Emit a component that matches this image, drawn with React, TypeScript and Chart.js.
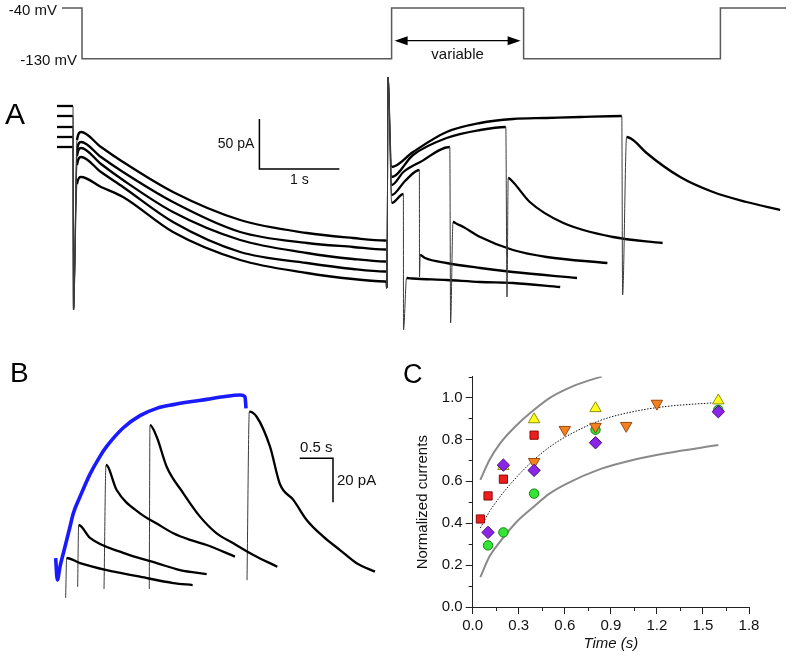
import React, { useEffect, useRef } from 'react';
import { Chart, registerables } from 'chart.js';

Chart.register(...registerables);

const FONT = '"Liberation Sans", Arial, Helvetica, sans-serif';

// ---------------- Voltage protocol ----------------
const protocolTimes = [0, 0.25, 4.12, 5.77, 8.23, 9.05]; // s
const protocolVoltages = [-40, -130, -40, -130, -40, -40]; // mV
const holdingLabels = ['-40 mV', '-130 mV'];
const variableText = 'variable';
const arrowVoltage = -98; // mV level of the "variable" arrow

// ---------------- Panel A (t in s, current in pA) ----------------
const sweepA1: [number, number][] = [
  [0, 194], [0.2, 194], [0.206, -10], [0.25, 160], [0.3, 168], [0.55, 153], [0.825, 138], [1.45, 108], [2.29, 80], [3.125, 67], [3.7, 62], [4.1, 59.5], [4.119, 59],
  [4.125, 12], [4.138, 223], [4.184, 133], [4.45, 148], [4.87, 168], [5.29, 177], [5.7, 181], [6.12, 182], [6.54, 183],
  [7.06, 184], [7.07, 5], [7.12, 163], [7.2, 160], [7.37, 147], [7.79, 123], [8.2, 108], [8.62, 98], [9.04, 90],
];
const sweepA2: [number, number][] = [
  [0, 184], [0.2, 184], [0.206, -10], [0.25, 150], [0.3, 158], [0.55, 143], [0.825, 128], [1.45, 98], [2.29, 68], [3.125, 57], [3.7, 53], [4.1, 50.5], [4.119, 50],
  [4.125, 12], [4.138, 223], [4.184, 123], [4.45, 145], [4.87, 162], [5.29, 170], [5.61, 173],
  [5.625, 3], [5.64, 122], [5.7, 118], [5.91, 98], [6.33, 77], [6.95, 63], [7.57, 57],
];
const sweepA3: [number, number][] = [
  [0, 173], [0.2, 173], [0.206, -10], [0.25, 144], [0.3, 152], [0.55, 136], [0.825, 120], [1.45, 88], [2.29, 60], [3.125, 47], [3.7, 41], [4.1, 38.5], [4.119, 38],
  [4.125, 12], [4.138, 223], [4.184, 115], [4.33, 128], [4.54, 138], [4.91, 153],
  [4.92, -23], [4.95, 78], [5.0, 76], [5.08, 73], [5.29, 63], [5.7, 50], [6.12, 43], [6.88, 37],
];
const sweepA4: [number, number][] = [
  [0, 163], [0.2, 163], [0.206, -10], [0.25, 135], [0.3, 143], [0.55, 128], [0.825, 113], [1.45, 78], [2.29, 48], [3.125, 37], [3.7, 31], [4.1, 28.5], [4.119, 28],
  [4.125, 12], [4.138, 223], [4.184, 105], [4.35, 119], [4.53, 130],
  [4.531, 23], [4.54, 45], [4.6, 42], [4.87, 37], [5.29, 32], [5.7, 28], [6.5, 22],
];
const sweepA5: [number, number][] = [
  [0, 153], [0.2, 153], [0.206, -10], [0.25, 116], [0.3, 123], [0.55, 113], [0.825, 103], [1.45, 68], [2.29, 40], [3.125, 27], [3.7, 21], [4.1, 18.5], [4.119, 18],
  [4.125, 12], [4.138, 223], [4.184, 97], [4.33, 106],
  [4.331, -30], [4.37, 22], [4.45, 21.5], [4.87, 20], [5.29, 18], [5.7, 17], [6.29, 13],
];
const scaleBarATimes = [2.53, 2.53, 3.53];
const scaleBarACurrents = [181, 131, 131];
const scaleBarALabels = ['50 pA', '1 s'];

// ---------------- Panel B (t in s, current in pA) ----------------
const blueTrace: [number, number][] = [
  [0.01, 19], [0.035, 9.1], [0.075, 15.2], [0.15, 24.2], [0.225, 33.3], [0.275, 39.4], [0.375, 46.9], [0.525, 57.2],
  [0.675, 65.3], [0.775, 69.8], [1.025, 78.3], [1.275, 83.8], [1.525, 87.1], [1.775, 88.8], [2.025, 90.1],
  [2.275, 91.2], [2.525, 92.4], [2.775, 93.2], [2.85, 92.4], [2.865, 87.1],
];
const tailB1: [number, number][] = [[0.16, 1], [0.175, 19.1], [0.375, 16.8], [0.775, 13.6], [1.275, 10.6], [1.775, 7.7], [2.065, 6.8]];
const tailB2: [number, number][] = [[0.34, 6], [0.355, 34.1], [0.525, 28.2], [1.025, 21.4], [1.525, 16.8], [1.875, 13.6], [2.275, 11.8]];
const tailB3: [number, number][] = [[0.735, 5], [0.765, 61.4], [0.925, 50], [1.275, 39.4], [1.525, 34.8], [1.775, 30.3], [2.025, 27.3], [2.275, 25], [2.7, 19.7]];
const tailB4: [number, number][] = [[1.414, 5], [1.425, 79.5], [1.525, 74.2], [1.675, 60.6], [1.925, 48.5], [2.175, 37.9], [2.425, 30.3], [2.675, 25.8], [2.975, 20.5], [3.335, 15.1]];
const tailB5: [number, number][] = [[2.88, 9], [2.915, 85.6], [3.025, 83.3], [3.225, 69.7], [3.375, 52.6], [3.575, 45.5], [3.775, 36.4], [4.025, 28.8], [4.275, 22.7], [4.525, 16.7], [4.8, 12.9]];
const scaleBarBTimes = [3.67, 4.17, 4.17];
const scaleBarBCurrents = [64.4, 64.4, 44.4];
const scaleBarBLabels = ['0.5 s', '20 pA'];

// ---------------- Panel C ----------------
const redTimes = [0.05, 0.1, 0.2, 0.4];
const redValues = [0.42, 0.53, 0.61, 0.82];
const greenTimes = [0.1, 0.2, 0.4, 0.8, 1.6];
const greenValues = [0.294, 0.356, 0.541, 0.846, 0.941];
const yellowTimes = [0.2, 0.4, 0.8, 1.6];
const yellowValues = [0.672, 0.895, 0.948, 0.985];
const orangeTimes = [0.4, 0.6, 0.8, 1.0, 1.2];
const orangeValues = [0.693, 0.846, 0.861, 0.865, 0.971];
const purpleTimes = [0.1, 0.2, 0.4, 0.8, 1.6];
const purpleValues = [0.356, 0.677, 0.652, 0.784, 0.932];

const upperTimes = [0.05, 0.11, 0.18, 0.29, 0.4, 0.5, 0.61, 0.72, 0.84];
const upperValues = [0.607, 0.703, 0.782, 0.87, 0.941, 0.997, 1.04, 1.072, 1.1];
const lowerTimes = [0.05, 0.11, 0.18, 0.29, 0.4, 0.5, 0.61, 0.83, 1.05, 1.26, 1.6];
const lowerValues = [0.143, 0.242, 0.313, 0.409, 0.48, 0.541, 0.588, 0.658, 0.703, 0.734, 0.773];
const fitTimes = [0.05, 0.11, 0.18, 0.29, 0.4, 0.5, 0.61, 0.83, 1.05, 1.26, 1.6];
const fitValues = [0.377, 0.456, 0.528, 0.623, 0.703, 0.763, 0.814, 0.89, 0.933, 0.957, 0.976];

const minorTicksX = [0.15, 0.45, 0.75, 1.05, 1.35, 1.65];
const minorTicksY = [0.1, 0.3, 0.5, 0.7, 0.9, 1.1];
const yTitle = 'Normalized currents';
const xTitle = 'Time (s)';

// ---------------- helpers ----------------
const zip = (xs: number[], ys: number[]) => xs.map((x, i) => ({ x, y: ys[i] }));
const pairs = (p: [number, number][]) => p.map(([x, y]) => ({ x, y }));

const isSpike = (ctx: any) => {
  const dx = Math.abs(ctx.p1.x - ctx.p0.x);
  const dy = Math.abs(ctx.p1.y - ctx.p0.y);
  return dy > 12 && dy > dx * 8;
};

function trace(points: [number, number][], color: string, width: number, thinSpikes = true) {
  return {
    data: pairs(points),
    showLine: true,
    pointRadius: 0,
    borderColor: color,
    borderWidth: width,
    cubicInterpolationMode: 'monotone',
    borderJoinStyle: 'round',
    fill: false,
    segment: thinSpikes
      ? {
          borderWidth: (ctx: any) => (isSpike(ctx) ? 1 : undefined),
          borderColor: (ctx: any) => (isSpike(ctx) ? '#3a3a3a' : undefined),
        }
      : undefined,
  };
}

function bar(xs: number[], ys: number[]) {
  return { data: zip(xs, ys), showLine: true, pointRadius: 0, borderColor: '#000', borderWidth: 1.5, tension: 0, fill: false };
}

function hiddenScaleConfig(xMin: number, xMax: number, yMin: number, yMax: number, datasets: any[], plugin: any) {
  return {
    type: 'scatter',
    data: { datasets },
    options: {
      responsive: false,
      animation: false,
      events: [],
      layout: { padding: 0 },
      plugins: { legend: { display: false }, tooltip: { enabled: false } },
      scales: {
        x: { type: 'linear', display: false, min: xMin, max: xMax },
        y: { type: 'linear', display: false, min: yMin, max: yMax },
      },
    },
    plugins: [plugin],
  };
}

// ---------------- chart configs ----------------
const protocolPlugin = {
  id: 'protocolText',
  afterDatasetsDraw(chart: any) {
    const { ctx, scales } = chart;
    const { x, y } = scales;
    ctx.save();
    ctx.fillStyle = '#111';
    ctx.font = `15px ${FONT}`;
    ctx.textAlign = 'right';
    ctx.textBaseline = 'middle';
    ctx.fillText(holdingLabels[0], x.getPixelForValue(protocolTimes[0]) - 5, y.getPixelForValue(protocolVoltages[0]) + 2.5);
    ctx.fillText(holdingLabels[1], x.getPixelForValue(protocolTimes[1]) - 5, y.getPixelForValue(protocolVoltages[1]) + 2);
    // arrow
    const x0 = x.getPixelForValue(protocolTimes[2]) + 3;
    const x1 = x.getPixelForValue(protocolTimes[3]) - 3;
    const ay = y.getPixelForValue(arrowVoltage);
    ctx.strokeStyle = '#000';
    ctx.lineWidth = 1.2;
    ctx.beginPath();
    ctx.moveTo(x0 + 8, ay);
    ctx.lineTo(x1 - 8, ay);
    ctx.stroke();
    ctx.fillStyle = '#000';
    ctx.beginPath();
    ctx.moveTo(x0, ay);
    ctx.lineTo(x0 + 13, ay - 4.5);
    ctx.lineTo(x0 + 13, ay + 4.5);
    ctx.closePath();
    ctx.fill();
    ctx.beginPath();
    ctx.moveTo(x1, ay);
    ctx.lineTo(x1 - 13, ay - 4.5);
    ctx.lineTo(x1 - 13, ay + 4.5);
    ctx.closePath();
    ctx.fill();
    ctx.fillStyle = '#111';
    ctx.textAlign = 'center';
    ctx.fillText(variableText, (x0 + x1) / 2, ay + 14);
    ctx.restore();
  },
};

const makeProtocol = () =>
  hiddenScaleConfig(
    -0.775,
    9.1125,
    -176.7,
    -25.8,
    [
      {
        data: zip(protocolTimes, protocolVoltages),
        showLine: true,
        stepped: 'before',
        pointRadius: 0,
        borderColor: '#5a5a5a',
        borderWidth: 1.5,
        fill: false,
      },
    ],
    protocolPlugin
  );

const aPlugin = {
  id: 'aText',
  afterDatasetsDraw(chart: any) {
    const { ctx, scales } = chart;
    const { x, y } = scales;
    ctx.save();
    ctx.fillStyle = '#111';
    ctx.font = `14px ${FONT}`;
    ctx.textAlign = 'right';
    ctx.textBaseline = 'middle';
    const vx = x.getPixelForValue(scaleBarATimes[0]);
    const vMid = (y.getPixelForValue(scaleBarACurrents[0]) + y.getPixelForValue(scaleBarACurrents[1])) / 2;
    ctx.fillText(scaleBarALabels[0], vx - 5, vMid);
    ctx.textAlign = 'center';
    ctx.textBaseline = 'top';
    const hMid = (x.getPixelForValue(scaleBarATimes[1]) + x.getPixelForValue(scaleBarATimes[2])) / 2;
    ctx.fillText(scaleBarALabels[1], hMid, y.getPixelForValue(scaleBarACurrents[2]) + 4);
    ctx.restore();
  },
};

const makeA = () =>
  hiddenScaleConfig(
    -0.7125,
    9.175,
    -45,
    230,
    [
      trace(sweepA1, '#000', 2.3),
      trace(sweepA2, '#000', 2.3),
      trace(sweepA3, '#000', 2.3),
      trace(sweepA4, '#000', 2.3),
      trace(sweepA5, '#000', 2.3),
      bar(scaleBarATimes, scaleBarACurrents),
    ],
    aPlugin
  );

const bPlugin = {
  id: 'bText',
  afterDatasetsDraw(chart: any) {
    const { ctx, scales } = chart;
    const { x, y } = scales;
    ctx.save();
    ctx.fillStyle = '#111';
    ctx.font = `15px ${FONT}`;
    ctx.textAlign = 'center';
    ctx.textBaseline = 'alphabetic';
    const hMid = (x.getPixelForValue(scaleBarBTimes[0]) + x.getPixelForValue(scaleBarBTimes[1])) / 2;
    ctx.fillText(scaleBarBLabels[0], hMid, y.getPixelForValue(scaleBarBCurrents[0]) - 6);
    ctx.textAlign = 'left';
    ctx.textBaseline = 'middle';
    const vMid = (y.getPixelForValue(scaleBarBCurrents[1]) + y.getPixelForValue(scaleBarBCurrents[2])) / 2;
    ctx.fillText(scaleBarBLabels[1], x.getPixelForValue(scaleBarBTimes[2]) + 4, vMid + 1);
    ctx.restore();
  },
};

const makeB = () =>
  hiddenScaleConfig(
    -0.825,
    5.175,
    -4.545,
    100,
    [
      trace(blueTrace, '#1a1aff', 3.6, false),
      trace(tailB1, '#000', 2.3),
      trace(tailB2, '#000', 2.3),
      trace(tailB3, '#000', 2.3),
      trace(tailB4, '#000', 2.3),
      trace(tailB5, '#000', 2.3),
      bar(scaleBarBTimes, scaleBarBCurrents),
    ],
    bPlugin
  );

const cPlugin = {
  id: 'cExtras',
  afterDraw(chart: any) {
    const { ctx, scales, chartArea } = chart;
    const { x, y } = scales;
    ctx.save();
    ctx.strokeStyle = '#222';
    ctx.lineWidth = 1;
    ctx.beginPath();
    for (const v of minorTicksY) {
      const py = Math.round(y.getPixelForValue(v)) + 0.5;
      ctx.moveTo(chartArea.left - 4, py);
      ctx.lineTo(chartArea.left, py);
    }
    for (const v of minorTicksX) {
      const px = Math.round(x.getPixelForValue(v)) + 0.5;
      ctx.moveTo(px, chartArea.bottom);
      ctx.lineTo(px, chartArea.bottom + 4);
    }
    ctx.stroke();
    // y title
    ctx.fillStyle = '#111';
    ctx.font = `15px ${FONT}`;
    ctx.textAlign = 'center';
    ctx.textBaseline = 'middle';
    ctx.translate(23, y.getPixelForValue(0.5));
    ctx.rotate(-Math.PI / 2);
    ctx.fillText(yTitle, 0, 0);
    ctx.restore();
  },
};

const marker = (xs: number[], ys: number[], style: string, fill: string, edge: string, r: number, order: number, rotation = 0) => ({
  data: zip(xs, ys),
  showLine: false,
  pointStyle: style,
  pointRadius: r,
  pointRotation: rotation,
  backgroundColor: fill,
  borderColor: edge,
  borderWidth: 1,
  order,
});

const curve = (xs: number[], ys: number[], color: string, width: number, dash: number[], order: number) => ({
  data: zip(xs, ys),
  showLine: true,
  pointRadius: 0,
  borderColor: color,
  borderWidth: width,
  borderDash: dash,
  cubicInterpolationMode: 'monotone',
  fill: false,
  order,
});

const tickFont = { family: FONT, size: 15 };

const makeC = () => ({
  type: 'scatter',
  data: {
    datasets: [
      curve(upperTimes, upperValues, '#8a8a8a', 2, [], 8),
      curve(lowerTimes, lowerValues, '#8a8a8a', 2, [], 7),
      curve(fitTimes, fitValues, '#111', 1, [1.5, 1.5], 6),
      marker(redTimes, redValues, 'rect', '#ee1c1c', '#8a0c0c', 5.8, 5),
      marker(greenTimes, greenValues, 'circle', '#33e633', '#178017', 4.7, 4),
      marker(yellowTimes, yellowValues, 'triangle', '#ffff1a', '#8f8f10', 6.6, 3),
      marker(orangeTimes, orangeValues, 'triangle', '#f5801e', '#9a4a12', 6.6, 2, 180),
      marker(purpleTimes, purpleValues, 'rectRot', '#8a24e6', '#4a1180', 6.2, 1),
    ],
  },
  options: {
    responsive: false,
    animation: false,
    events: [],
    layout: { padding: { left: 10.5, top: 36.5, right: 42, bottom: 3 } },
    plugins: { legend: { display: false }, tooltip: { enabled: false } },
    scales: {
      x: {
        type: 'linear',
        position: 'bottom',
        min: 0,
        max: 1.8,
        afterFit: (s: any) => {
          s.height = 50;
        },
        ticks: {
          stepSize: 0.3,
          includeBounds: false,
          autoSkip: false,
          maxRotation: 0,
          padding: 3,
          color: '#111',
          font: tickFont,
          callback: (v: any) => Number(v).toFixed(1),
        },
        grid: { drawOnChartArea: false, drawTicks: true, tickLength: 7, color: '#222', tickColor: '#222' },
        border: { display: true, color: '#222', width: 1 },
        title: { display: true, text: xTitle, color: '#111', font: { family: FONT, size: 15, style: 'italic' }, padding: { top: 4, bottom: 4 } },
      },
      y: {
        type: 'linear',
        position: 'left',
        min: 0,
        max: 1.1,
        afterFit: (s: any) => {
          s.width = 62.2;
        },
        ticks: {
          stepSize: 0.2,
          includeBounds: false,
          autoSkip: false,
          padding: 3,
          color: '#111',
          font: tickFont,
          callback: (v: any) => Number(v).toFixed(1),
        },
        grid: { drawOnChartArea: false, drawTicks: true, tickLength: 7, color: '#222', tickColor: '#222' },
        border: { display: true, color: '#222', width: 1 },
      },
    },
  },
  plugins: [cPlugin],
});

// ---------------- components ----------------
function ChartCanvas({ left, top, width, height, make }: { left: number; top: number; width: number; height: number; make: () => any }) {
  const ref = useRef<HTMLCanvasElement>(null);
  useEffect(() => {
    const chart = new Chart(ref.current as HTMLCanvasElement, make());
    return () => chart.destroy();
  }, []);
  return <canvas ref={ref} width={width} height={height} style={{ position: 'absolute', left, top, width, height }} />;
}

const letterStyle = (left: number, top: number, size: number): React.CSSProperties => ({
  position: 'absolute',
  left,
  top,
  fontSize: size,
  lineHeight: 1,
  fontFamily: FONT,
  color: '#000',
});

export default function App() {
  return (
    <div style={{ position: 'absolute', left: 0, top: 0, width: 791, height: 660, background: '#fff', overflow: 'hidden' }}>
      <ChartCanvas left={0} top={0} width={791} height={85} make={makeProtocol} />
      <ChartCanvas left={0} top={70} width={791} height={275} make={makeA} />
      <ChartCanvas left={0} top={380} width={400} height={230} make={makeB} />
      <ChartCanvas left={400} top={340} width={391} height={320} make={makeC} />
      <div style={letterStyle(5, 99, 30)}>A</div>
      <div style={letterStyle(10, 359, 28)}>B</div>
      <div style={letterStyle(403, 361, 27)}>C</div>
    </div>
  );
}
